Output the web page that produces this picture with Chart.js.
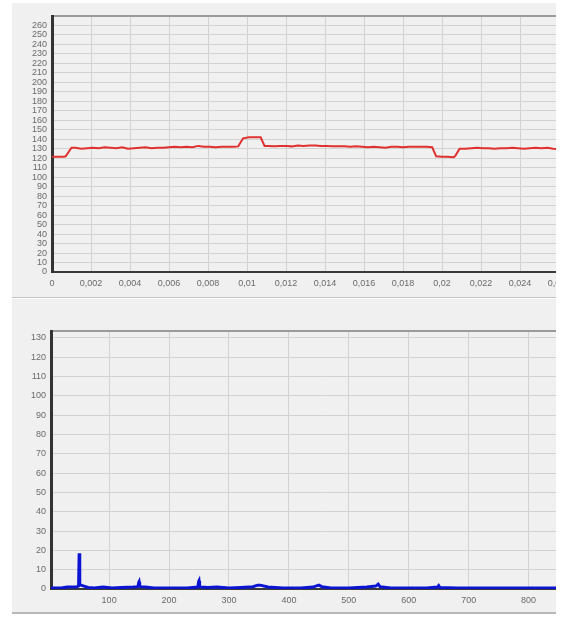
<!DOCTYPE html>
<html>
<head>
<meta charset="utf-8">
<script src="https://cdn.jsdelivr.net/npm/chart.js@4.4.1/dist/chart.umd.min.js"></script>
<style>
  html, body { margin: 0; padding: 0; background: #ffffff; }
  body { width: 562px; height: 619px; position: relative; overflow: hidden; }
  .panel { position: absolute; left: 12px; width: 544px; background: #f0f0f0; overflow: hidden; }
  #panelTop { top: 3px; height: 294px; border-bottom: 1px solid #c4c4c4; }
  #panelBottom { top: 299px; height: 313px; border-bottom: 2px solid #b8b8b8; }
  canvas { position: absolute; left: 0; top: 0; }
</style>
</head>
<body>
<div class="panel" id="panelTop"><canvas id="chartTop" width="570" height="294"></canvas></div>
<div class="panel" id="panelBottom"><canvas id="chartBottom" width="590" height="313"></canvas></div>

<script>
// Grafik atas: waktu (s) vs nilai
const timeX = [0, 0.0006, 0.0007, 0.0010, 0.0012, 0.0015, 0.0018, 0.0021, 0.0024, 0.0027,
  0.0030, 0.0033, 0.0036, 0.0039, 0.0042, 0.0045, 0.0048, 0.0051, 0.0054, 0.0057,
  0.0060, 0.0063, 0.0066, 0.0069, 0.0072, 0.0075, 0.0078, 0.0081, 0.0084, 0.0087,
  0.0090, 0.0093, 0.00955, 0.0098, 0.0101, 0.0104, 0.0107, 0.0109, 0.0111, 0.0114,
  0.0117, 0.0120, 0.0123, 0.0126, 0.0129, 0.0132, 0.0135, 0.0138, 0.0141, 0.0144,
  0.0147, 0.0150, 0.0153, 0.0156, 0.0159, 0.0162, 0.0165, 0.0168, 0.0171, 0.0174,
  0.0177, 0.0180, 0.0183, 0.0186, 0.0189, 0.0192, 0.0195, 0.0197, 0.0200, 0.0203,
  0.0206, 0.0207, 0.0209, 0.0212, 0.0215, 0.0218, 0.0221, 0.0224, 0.0227, 0.0230,
  0.0233, 0.0236, 0.0239, 0.0242, 0.0245, 0.0248, 0.0251, 0.0254, 0.0257, 0.0260];
const timeY = [121.5, 121.5, 122, 131, 131, 130, 130.5, 131, 130.5, 131.5,
  131, 130.5, 131.5, 130, 130.5, 131, 131.5, 130.5, 131, 131,
  131.5, 132, 131.5, 132, 131.5, 133, 132, 132, 131.5, 132,
  132, 132, 132.5, 141, 142, 142, 142, 133, 133, 132.5,
  133, 133, 132.5, 133.5, 133, 133.5, 133.5, 133, 133, 132.5,
  132.5, 132.5, 132, 132.5, 132, 131.5, 132, 131.5, 131, 132,
  132, 131.5, 132, 132, 132, 132, 131.5, 122, 121.5, 121.5,
  121, 123, 130, 130, 130.5, 131, 130.5, 130.5, 130, 130.5,
  130.5, 131, 130.5, 130, 130.5, 131, 130.5, 131, 130, 129.5];
const topXTicks = [0, 0.002, 0.004, 0.006, 0.008, 0.01, 0.012, 0.014, 0.016, 0.018, 0.02, 0.022, 0.024, 0.026];
const topYTicks = [0, 10, 20, 30, 40, 50, 60, 70, 80, 90, 100, 110, 120, 130, 140, 150, 160, 170, 180, 190, 200, 210, 220, 230, 240, 250, 260, 270];

// Grafik bawah: frekuensi vs amplitudo
const freqX = [3, 20, 30, 45, 49, 50, 51, 53, 58, 65,
  75, 90, 105, 120, 140, 148, 149.5, 150, 151, 153,
  160, 175, 200, 230, 248, 249.5, 250, 251, 253, 265,
  280, 300, 320, 340, 348, 352, 365, 390, 420, 440,
  450, 455, 470, 500, 530, 545, 549, 550, 552, 570,
  600, 630, 648, 650, 652, 680, 720, 760, 800, 845, 900];
const freqY = [0.5, 0.5, 1, 1, 1.5, 18.5, 2.5, 2, 1.5, 0.8,
  0.5, 1, 0.5, 0.8, 1, 1.2, 3.5, 3.8, 1.5, 1.2,
  1, 0.5, 0.5, 0.5, 1, 4, 4.3, 1.2, 1, 0.8,
  1, 0.5, 0.8, 1.2, 2, 2, 1, 0.5, 0.5, 1,
  2, 1.2, 0.5, 0.5, 1, 1.5, 2.5, 2.5, 1.2, 0.5,
  0.5, 0.5, 1, 1.8, 0.8, 0.5, 0.5, 0.5, 0.5, 0.5, 0.5];
const bottomXTicks = [3, 100, 200, 300, 400, 500, 600, 700, 800, 900];
const bottomYTicks = [0, 10, 20, 30, 40, 50, 60, 70, 80, 90, 100, 110, 120, 130, 133.5];

const tickFont = { family: "'Liberation Sans', Arial, sans-serif", size: 9 };
const tickColor = "#6a6a6a";
const gridColor = "#d2d2d2";

function useTicks(values) {
  return function (scale) {
    scale.ticks = values.map(v => ({ value: v }));
  };
}

function fixSize(size) {
  return function (scale) {
    if (scale.isHorizontal()) scale.height = size;
    else scale.width = size;
  };
}

function makeChart(canvasId, xs, ys, color, lineWidth, opt) {
  const points = xs.map((x, i) => ({ x: x, y: ys[i] }));
  return new Chart(document.getElementById(canvasId), {
    type: "line",
    data: {
      datasets: [{
        data: points,
        borderColor: color,
        borderWidth: lineWidth,
        pointRadius: 0,
        tension: 0,
        fill: false
      }]
    },
    options: {
      responsive: false,
      animation: false,
      events: [],
      layout: { padding: opt.padding },
      plugins: { legend: { display: false }, tooltip: { enabled: false } },
      scales: {
        x: {
          type: "linear",
          min: opt.xMin,
          max: opt.xMax,
          afterBuildTicks: useTicks(opt.xTicks),
          afterFit: fixSize(opt.xHeight),
          grid: { color: gridColor, lineWidth: 1, drawTicks: false },
          border: { display: true, color: "#3a3a3a", width: 2 },
          ticks: {
            font: tickFont,
            color: tickColor,
            padding: 6,
            maxRotation: 0,
            autoSkip: false,
            callback: opt.xLabel
          }
        },
        xTop: {
          type: "linear",
          position: "top",
          min: opt.xMin,
          max: opt.xMax,
          afterFit: fixSize(0),
          grid: { display: false, drawTicks: false },
          border: { display: true, color: "#9a9a9a", width: 2 },
          ticks: { display: false }
        },
        y: {
          min: 0,
          max: opt.yMax,
          afterBuildTicks: useTicks(opt.yTicks),
          afterFit: fixSize(opt.yWidth),
          grid: { color: gridColor, lineWidth: 1, drawTicks: false },
          border: { display: true, color: "#333333", width: 3 },
          ticks: {
            font: tickFont,
            color: tickColor,
            padding: 5,
            autoSkip: false,
            callback: v => (v % 10 === 0 && v <= opt.yLabelMax ? String(v) : "")
          }
        }
      }
    }
  });
}

document.addEventListener("DOMContentLoaded", function () {
  // Grafik atas
  makeChart("chartTop", timeX, timeY, "#e0302f", 2, {
    padding: { left: 0, top: 13, right: 23, bottom: 0 },
    xMin: 0,
    xMax: 0.026,
    xTicks: topXTicks,
    xHeight: 25,
    yMax: 270,
    yTicks: topYTicks,
    yWidth: 40,
    yLabelMax: 260,
    xLabel: v => String(+v.toFixed(3)).replace(".", ",")
  });

  // Grafik bawah
  makeChart("chartBottom", freqX, freqY, "#0a14d2", 3, {
    padding: { left: 0, top: 32, right: 13, bottom: 0 },
    xMin: 3,
    xMax: 900,
    xTicks: bottomXTicks,
    xHeight: 23,
    yMax: 133.5,
    yTicks: bottomYTicks,
    yWidth: 39,
    yLabelMax: 130,
    xLabel: v => (v % 100 === 0 ? String(v) : "")
  });
});
</script>
</body>
</html>
